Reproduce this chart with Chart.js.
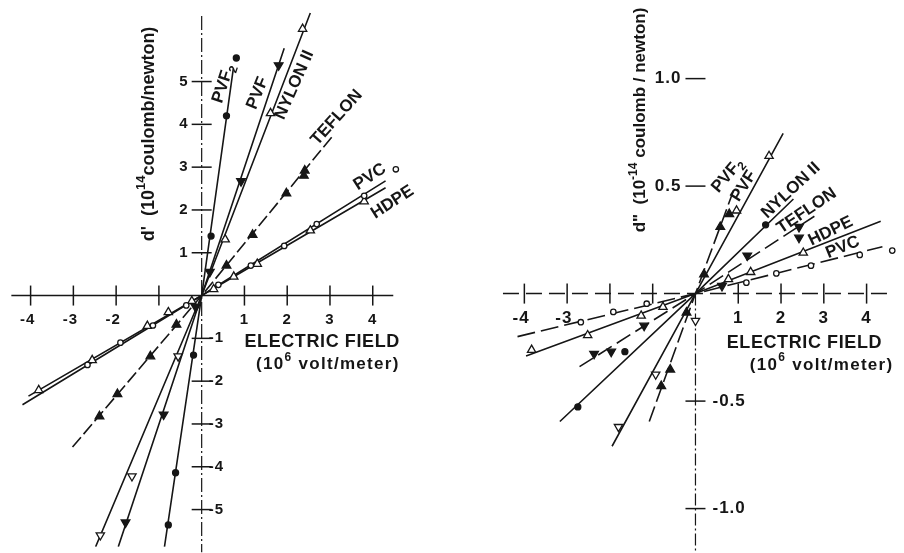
<!DOCTYPE html>
<html>
<head>
<meta charset="utf-8">
<script src="https://cdn.jsdelivr.net/npm/chart.js@4/dist/chart.umd.min.js"></script>
<style>
  html, body { margin: 0; padding: 0; background: #ffffff; }
  #wrap { position: relative; width: 904px; height: 553px; overflow: hidden; }
  #left { position: absolute; left: 0; top: 0; }
  #right { position: absolute; left: 450px; top: 0; }
</style>
</head>
<body>
<div id="wrap">
  <canvas id="left" width="450" height="553"></canvas>
  <canvas id="right" width="454" height="553"></canvas>
</div>
<script>
// ---------------- data ----------------
const fieldTicks = [-4, -3, -2, -1, 1, 2, 3, 4];
const leftFieldTickLabels = ['-4', '-3', '-2', '', '1', '2', '3', '4'];
const rightFieldTickLabels = ['-4', '-3', '', '', '1', '2', '3', '4'];
const dPrimeTicks = [5, 4, 3, 2, 1, -1, -2, -3, -4, -5];
const dPrimeTickLabels = ['5', '4', '3', '2', '1', '-1', '-2', '-3', '-4', '-5'];
const dDoublePrimeTicks = [1.0, 0.5, -0.5, -1.0];
const dDoublePrimeTickLabels = ['1.0', '0.5', '-0.5', '-1.0'];

const materials = ['PVF₂', 'PVF', 'NYLON II', 'TEFLON', 'PVC', 'HDPE'];

// left panel: d' (measured points)
const dPrimePVF2   = [[0.22, 1.39], [0.58, 4.2], [0.81, 5.55], [-0.19, -1.39], [-0.61, -4.14], [-0.78, -5.36]];
const dPrimePVF    = [[0.19, 0.55], [0.92, 2.67], [1.8, 5.38], [-0.14, -0.27], [-0.89, -2.78], [-1.78, -5.3]];
const dPrimeNylon  = [[0.55, 1.31], [1.61, 4.26], [2.36, 6.23], [-0.55, -1.42], [-1.63, -4.22], [-2.37, -5.6]];
const dPrimeTeflon = [[0.58, 0.7], [1.19, 1.42], [1.98, 2.39], [2.39, 2.8], [2.41, 2.92], [-0.59, -0.68], [-1.2, -1.42], [-1.97, -2.3], [-2.39, -2.82]];
const dPrimePVC    = [[0.39, 0.25], [1.15, 0.7], [1.93, 1.16], [2.69, 1.67], [3.8, 2.33], [4.54, 2.95], [-0.36, -0.23], [-1.14, -0.7], [-1.9, -1.1], [-2.67, -1.62]];
const dPrimeHDPE   = [[0.28, 0.15], [0.75, 0.44], [1.3, 0.74], [2.54, 1.52], [3.8, 2.2], [-0.23, -0.13], [-0.78, -0.39], [-1.27, -0.71], [-2.56, -1.51], [-3.81, -2.21]];
// left panel: drawn straight lines (end, origin, end)
const dPrimeFitPVF2   = [[-0.87, -5.87], [0, 0], [0.74, 5.3]];
const dPrimeFitPVF    = [[-1.95, -5.87], [0, 0], [1.93, 5.78]];
const dPrimeFitNylon  = [[-2.48, -5.87], [0, 0], [2.54, 6.6]];
const dPrimeFitTeflon = [[-3.02, -3.54], [0, 0], [3.08, 3.75]];
const dPrimeFitPVC    = [[-4.19, -2.55], [0, 0], [4.3, 2.68]];
const dPrimeFitHDPE   = [[-4.05, -2.35], [0, 0], [4.3, 2.52]];

// right panel: d'' (measured points)
const dDoublePVF2   = [[0.2, 0.09], [0.58, 0.31], [0.79, 0.37], [-0.21, -0.088], [-0.59, -0.353], [-0.8, -0.43]];
const dDoublePVF    = [[0.96, 0.386], [1.72, 0.64], [0, -0.126], [-0.93, -0.376], [-1.8, -0.62]];
const dDoubleNylon  = [[1.64, 0.32], [-1.65, -0.27], [-2.75, -0.527]];
const dDoubleTeflon = [[0.62, 0.036], [1.21, 0.177], [2.42, 0.31], [2.42, 0.26], [-1.2, -0.149], [-1.97, -0.27], [-2.37, -0.28]];
const dDoubleHDPE   = [[0.77, 0.067], [1.29, 0.1], [2.52, 0.19], [-0.76, -0.062], [-1.27, -0.103], [-2.52, -0.194], [-3.83, -0.262]];
const dDoublePVC    = [[1.19, 0.051], [1.89, 0.094], [2.7, 0.13], [3.84, 0.18], [4.6, 0.2], [-1.14, -0.047], [-1.92, -0.085], [-2.68, -0.133]];
// right panel: drawn straight lines
const dDoubleFitPVF2   = [[-1.08, -0.595], [0, 0], [0.89, 0.48]];
const dDoubleFitPVF    = [[-1.95, -0.71], [0, 0], [2.05, 0.745]];
const dDoubleFitNylon  = [[-3.17, -0.595], [0, 0], [2.29, 0.44]];
const dDoubleFitTeflon = [[-2.71, -0.34], [0, 0], [2.78, 0.36]];
const dDoubleFitHDPE   = [[-3.96, -0.29], [0, 0], [4.33, 0.336]];
const dDoubleFitPVC    = [[-4.16, -0.2], [0, 0], [4.37, 0.218]];

// ---------------- styling ----------------
const INK = '#161616';
const FONT = '"Liberation Sans", Arial, sans-serif';

function pts(a) { return a.map(([x, y]) => ({ x, y })); }

const markerStyles = {
  filledCircle: { pointStyle: 'circle', pointRadius: 3, pointBackgroundColor: INK },
  openCircle:   { pointStyle: 'circle', pointRadius: 2.7, pointBackgroundColor: '#ffffff' },
  filledUp:     { pointStyle: 'triangle', pointRadius: 5, pointBackgroundColor: INK, pointRotation: 0 },
  filledDown:   { pointStyle: 'triangle', pointRadius: 5, pointBackgroundColor: INK, pointRotation: 180 },
  openUp:       { pointStyle: 'triangle', pointRadius: 4.8, pointBackgroundColor: '#ffffff', pointRotation: 0 },
  openFlip:     { pointStyle: 'triangle', pointRadius: 4.8, pointBackgroundColor: '#ffffff',
                  pointRotation: c => (c.raw && c.raw.y < 0 ? 180 : 0) }
};

function markerDs(label, data, style) {
  return Object.assign({
    label: label, data: pts(data), showLine: false, order: 1,
    pointBorderColor: INK, pointBorderWidth: 1.3, pointHoverRadius: 0,
    borderColor: INK, backgroundColor: INK
  }, markerStyles[style]);
}
function lineDs(label, data, dash) {
  return {
    label: label + ' line', data: pts(data), showLine: true, order: 2,
    borderColor: INK, borderWidth: 1.6, borderDash: dash || [],
    pointRadius: 0, pointHoverRadius: 0, fill: false, tension: 0
  };
}

// rich text: parts = [[text, ''|'sup'|'sub'], ...]
function drawRich(ctx, parts, x, y, o) {
  const size = o.size, weight = o.weight || 'bold';
  const fontFor = k => `${weight} ${k ? Math.round(size * 0.72) : size}px ${FONT}`;
  ctx.save();
  ctx.letterSpacing = (o.spacing || 0) + 'px';
  let total = 0;
  const widths = parts.map(([t, k]) => { ctx.font = fontFor(k); const w = ctx.measureText(t).width; total += w; return w; });
  ctx.translate(x, y);
  ctx.rotate((o.rot || 0) * Math.PI / 180);
  ctx.fillStyle = INK;
  ctx.textBaseline = 'middle';
  ctx.textAlign = 'left';
  let cx = o.align === 'left' ? 0 : (o.align === 'right' ? -total : -total / 2);
  parts.forEach(([t, k], i) => {
    ctx.font = fontFor(k);
    const dy = k === 'sup' ? -size * 0.4 : (k === 'sub' ? size * 0.32 : 0);
    ctx.fillText(t, cx, dy);
    cx += widths[i];
  });
  ctx.restore();
}

function panelPlugin(cfg) {
  return {
    id: 'panel',
    beforeDatasetsDraw(chart) {
      const ctx = chart.ctx, xs = chart.scales.x, ys = chart.scales.y;
      const X = v => xs.getPixelForValue(v), Y = v => ys.getPixelForValue(v);
      const x0 = X(0), y0 = Y(0);
      ctx.save();
      ctx.strokeStyle = INK;
      ctx.lineWidth = cfg.xAxisWidth; ctx.setLineDash(cfg.xAxisDash);
      ctx.beginPath(); ctx.moveTo(X(cfg.xRange[0]), y0); ctx.lineTo(X(cfg.xRange[1]), y0); ctx.stroke();
      ctx.lineWidth = cfg.yAxisWidth; ctx.setLineDash(cfg.yAxisDash);
      ctx.beginPath(); ctx.moveTo(x0, Y(cfg.yRange[1])); ctx.lineTo(x0, Y(cfg.yRange[0])); ctx.stroke();
      ctx.setLineDash([]); ctx.lineWidth = 1.5;
      cfg.xTicks.forEach(v => { const p = X(v); ctx.beginPath(); ctx.moveTo(p, y0 - 10); ctx.lineTo(p, y0 + 10); ctx.stroke(); });
      cfg.yTicks.forEach(v => { const p = Y(v); ctx.beginPath(); ctx.moveTo(x0 - 10, p); ctx.lineTo(x0 + 10, p); ctx.stroke(); });
      ctx.restore();
    },
    afterDatasetsDraw(chart) {
      const ctx = chart.ctx, xs = chart.scales.x, ys = chart.scales.y;
      const X = v => xs.getPixelForValue(v), Y = v => ys.getPixelForValue(v);
      const x0 = X(0), y0 = Y(0);
      ctx.save();
      ctx.fillStyle = INK;
      ctx.textBaseline = 'middle';
      ctx.letterSpacing = '1px';
      ctx.font = `bold ${cfg.tickFont}px ${FONT}`;
      cfg.xTicks.forEach((v, i) => {
        const t = cfg.xTickLabels[i]; if (!t) return;
        const dw = ctx.measureText(t.replace('-', '')).width;
        ctx.textAlign = 'right';
        ctx.fillText(t, X(v) + dw / 2, y0 + cfg.xLabelOffset);
      });
      cfg.yTicks.forEach((v, i) => {
        const t = cfg.yTickLabels[i]; if (!t) return;
        if (v > 0) { ctx.textAlign = 'right'; ctx.fillText(t, x0 - cfg.yLabelGapPos, Y(v)); }
        else { ctx.textAlign = 'left'; ctx.fillText(t, x0 + cfg.yLabelGapNeg, Y(v)); }
      });
      ctx.restore();
      // series names
      cfg.names.forEach(n => {
        const parts = n.sub ? [[n.text, ''], [n.sub, 'sub']] : [[n.text, '']];
        drawRich(ctx, parts, X(n.x), Y(n.y), { size: cfg.nameFont, rot: n.rot });
      });
      // axis titles
      drawRich(ctx, cfg.xTitle1, X(cfg.xTitlePos[0]), Y(cfg.xTitlePos[1]), { size: 18, align: 'left', spacing: 0.6 });
      drawRich(ctx, cfg.xTitle2, X(cfg.xTitle2Pos[0]), Y(cfg.xTitle2Pos[1]), { size: 17, align: 'left', spacing: 1.3 });
      drawRich(ctx, cfg.yTitle, cfg.yTitlePx[0], cfg.yTitlePx[1], { size: cfg.yTitleFont, rot: -90 });
    }
  };
}

function makeChart(id, datasets, scales, cfg) {
  return new Chart(document.getElementById(id), {
    type: 'scatter',
    data: { datasets: datasets },
    options: {
      responsive: false, animation: false, devicePixelRatio: 1, events: [],
      layout: { padding: 0 },
      plugins: { legend: { display: false }, tooltip: { enabled: false }, title: { display: false } },
      scales: {
        x: { type: 'linear', min: scales.x[0], max: scales.x[1], display: false },
        y: { type: 'linear', min: scales.y[0], max: scales.y[1], display: false }
      }
    },
    plugins: [panelPlugin(cfg)]
  });
}

// ---------------- left panel: d' ----------------
makeChart('left', [
  lineDs(materials[0], dPrimeFitPVF2),
  lineDs(materials[1], dPrimeFitPVF),
  lineDs(materials[2], dPrimeFitNylon),
  lineDs(materials[3], dPrimeFitTeflon, [13, 4]),
  lineDs(materials[4], dPrimeFitPVC),
  lineDs(materials[5], dPrimeFitHDPE),
  markerDs(materials[0], dPrimePVF2, 'filledCircle'),
  markerDs(materials[1], dPrimePVF, 'filledDown'),
  markerDs(materials[2], dPrimeNylon, 'openFlip'),
  markerDs(materials[3], dPrimeTeflon, 'filledUp'),
  markerDs(materials[4], dPrimePVC, 'openCircle'),
  markerDs(materials[5], dPrimeHDPE, 'openUp')
], { x: [-201 / 44, 249 / 44], y: [-257 / 43.8, 296 / 43.8] }, {
  xRange: [-4.45, 4.48], yRange: [-6, 6.53],
  xAxisWidth: 1.6, xAxisDash: [], yAxisWidth: 1.2, yAxisDash: [14, 3, 2, 3],
  xTicks: fieldTicks, xTickLabels: leftFieldTickLabels,
  yTicks: dPrimeTicks, yTickLabels: dPrimeTickLabels,
  tickFont: 15, xLabelOffset: 24, yLabelGapPos: 13, yLabelGapNeg: 7,
  nameFont: 17,
  names: [
    { text: 'PVF', sub: '2', x: 0.51, y: 4.95, rot: -72 },
    { text: 'PVF', x: 1.31, y: 4.73, rot: -68 },
    { text: 'NYLON II', x: 2.17, y: 4.92, rot: -66 },
    { text: 'TEFLON', x: 3.16, y: 4.16, rot: -48 },
    { text: 'PVC', x: 3.93, y: 2.77, rot: -33 },
    { text: 'HDPE', x: 4.46, y: 2.18, rot: -33 }
  ],
  xTitle1: [['ELECTRIC FIELD', '']], xTitlePos: [1.0, -1.09],
  xTitle2: [['(10', ''], ['6', 'sup'], [' volt/meter)', '']], xTitle2Pos: [1.27, -1.61],
  yTitle: [["d'  (10", ''], ['14', 'sup'], ['coulomb/newton)', '']], yTitlePx: [149, 134], yTitleFont: 18
});

// ---------------- right panel: d'' ----------------
makeChart('right', [
  lineDs(materials[0], dDoubleFitPVF2, [16, 5]),
  lineDs(materials[1], dDoubleFitPVF),
  lineDs(materials[2], dDoubleFitNylon),
  lineDs(materials[3], dDoubleFitTeflon, [16, 6]),
  lineDs(materials[4], dDoubleFitPVC, [18, 6]),
  lineDs(materials[5], dDoubleFitHDPE),
  markerDs(materials[0], dDoublePVF2, 'filledUp'),
  markerDs(materials[1], dDoublePVF, 'openFlip'),
  markerDs(materials[2], dDoubleNylon, 'filledCircle'),
  markerDs(materials[3], dDoubleTeflon, 'filledDown'),
  markerDs(materials[4], dDoublePVC, 'openCircle'),
  markerDs(materials[5], dDoubleHDPE, 'openUp')
], { x: [-246 / 44, 208 / 44], y: [-259 / 220, 294 / 220] }, {
  xRange: [-4.5, 4.52], yRange: [-1.2, 0],
  xAxisWidth: 1.5, xAxisDash: [16, 7], yAxisWidth: 1.2, yAxisDash: [12, 3, 2, 3],
  xTicks: fieldTicks, xTickLabels: rightFieldTickLabels,
  yTicks: dDoublePrimeTicks, yTickLabels: dDoublePrimeTickLabels,
  tickFont: 17, xLabelOffset: 25, yLabelGapPos: 14, yLabelGapNeg: 17,
  nameFont: 17,
  names: [
    { text: 'PVF', sub: '2', x: 0.75, y: 0.55, rot: -50 },
    { text: 'PVF', x: 1.13, y: 0.5, rot: -57 },
    { text: 'NYLON II', x: 2.23, y: 0.48, rot: -43 },
    { text: 'TEFLON', x: 2.6, y: 0.385, rot: -34 },
    { text: 'HDPE', x: 3.16, y: 0.29, rot: -26 },
    { text: 'PVC', x: 3.44, y: 0.215, rot: -22 }
  ],
  xTitle1: [['ELECTRIC FIELD', '']], xTitlePos: [0.73, -0.232],
  xTitle2: [['(10', ''], ['6', 'sup'], [' volt/meter)', '']], xTitle2Pos: [1.27, -0.332],
  yTitle: [['d"  (10', ''], ['-14', 'sup'], [' coulomb / newton)', '']], yTitlePx: [190, 120], yTitleFont: 17
});
</script>
</body>
</html>
